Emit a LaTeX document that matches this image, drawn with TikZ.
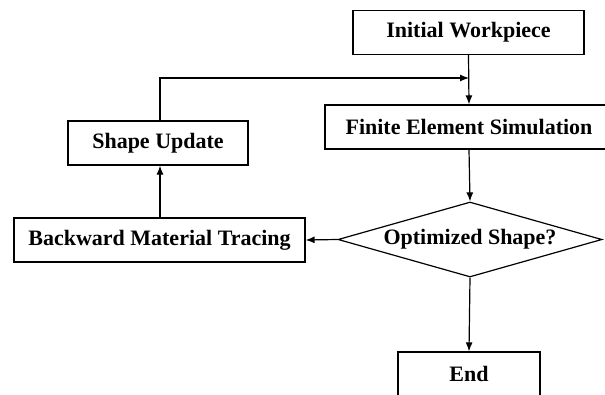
\documentclass[tikz,border=0pt]{standalone}
\usepackage{fontspec}
\setmainfont{Liberation Serif}
\usetikzlibrary{arrows.meta, shapes.geometric, calc}

\begin{document}
\begin{tikzpicture}[x=1pt, y=-1pt, line width=1.2pt, font=\bfseries\fontsize{22}{24}\selectfont,
	box/.style={draw, rectangle, inner sep=0pt, minimum height=44pt},
	decision/.style={draw, diamond, inner sep=0pt, aspect=3.5, minimum width=264pt, minimum height=75pt},
	flow/.style={-{Latex[length=9pt, width=7pt]}}]
	\useasboundingbox (0,0) rectangle (605,394);
	\clip (0,0) rectangle (605,394);

	\node[box, minimum width=231pt] (iw) at (468.5,32.5) {Initial Workpiece};
	\node[box, minimum width=288pt] (fes) at (469,127) {Finite Element Simulation};
	\node[box, minimum width=180pt] (su) at (158,143) {Shape Update};
	\node[box, minimum width=291pt] (bmt) at (159.5,240) {Backward Material Tracing};
	\node[decision] (opt) at (470,239.5) {Optimized Shape?};
	\node[box, minimum width=142pt] (end) at (469,374) {End};

	\coordinate (join) at (469,78);

	\draw[flow] (iw.south) -- (fes.north);
	\draw[flow] (su.north -| 160,0) |- (join);
	\draw[flow] (fes.south) -- (opt.north);
	\draw[flow] (opt.west) -- (bmt.east);
	\draw[flow] (bmt.north -| 160,0) -- (su.south -| 160,0);
	\draw[flow] (opt.south) -- (end.north);
\end{tikzpicture}
\end{document}
